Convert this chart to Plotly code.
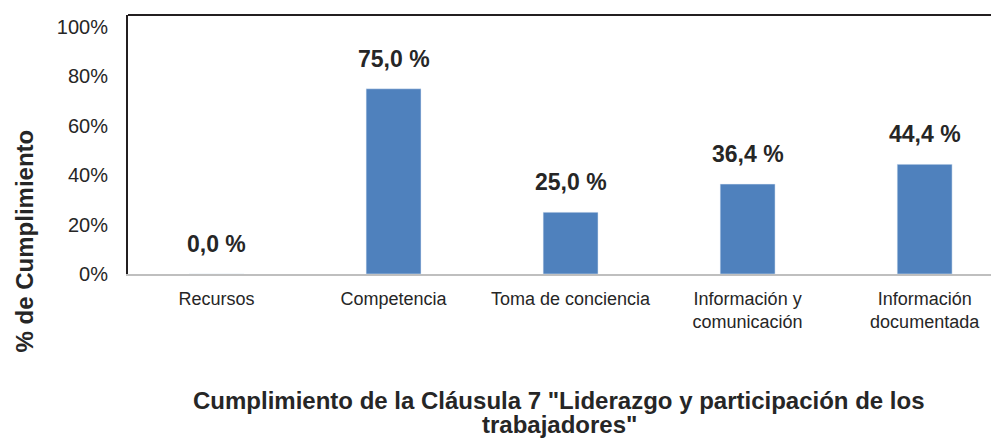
import plotly.graph_objects as go

categories = ["Recursos", "Competencia", "Toma de conciencia",
              "Información y<br>comunicación", "Información<br>documentada"]
values = [0.0, 0.75, 0.25, 0.364, 0.444]
labels = ["0,0 %", "75,0 %", "25,0 %", "36,4 %", "44,4 %"]
y_ticks = [0, 0.2, 0.4, 0.6, 0.8, 1.0]
y_tick_text = ["0%", "20%", "40%", "60%", "80%", "100%"]
x_title_lines = ["Cumplimiento de la Cláusula 7 \"Liderazgo y participación de los",
                 "trabajadores\""]
y_title = "% de Cumplimiento"

FONT = "Liberation Sans, Arial, sans-serif"
TXT = "#262626"

xs = list(range(len(categories)))

fig = go.Figure()
fig.add_trace(go.Bar(x=xs, y=values, marker_color="#4F81BD", width=0.31,
                     hoverinfo="skip"))

for xi, v, t in zip(xs, values, labels):
    fig.add_annotation(x=xi, y=v, text=f"<b>{t}</b>", showarrow=False,
                       yanchor="bottom", yshift=15,
                       font=dict(family=FONT, size=23, color=TXT))

for line, yp in zip(x_title_lines, [-0.4865, -0.583]):
    fig.add_annotation(xref="paper", yref="paper", x=0.495, y=yp,
                       text=f"<b>{line}</b>",
                       showarrow=False, xanchor="center", yanchor="middle",
                       font=dict(family=FONT, size=24, color=TXT))
fig.add_annotation(xref="paper", yref="paper", x=-0.119, y=0.127,
                   text=f"<b>{y_title}</b>", textangle=-90,
                   showarrow=False, xanchor="center", yanchor="middle",
                   font=dict(family=FONT, size=24, color=TXT))

fig.add_shape(type="line", xref="paper", yref="paper", x0=0, x1=1, y0=1, y1=1,
              line=dict(color="#231f20", width=2))

fig.update_layout(
    width=991, height=431,
    margin=dict(l=120, r=0, t=7, b=165),
    plot_bgcolor="white", paper_bgcolor="white",
    showlegend=False,
    xaxis=dict(range=[-0.5, 4.42], tickmode="array", tickvals=xs,
               ticktext=categories, showline=True, linecolor="#BFBFBF",
               linewidth=2, showgrid=False, zeroline=False, ticks="",
               ticklabelstandoff=7,
               tickfont=dict(family=FONT, size=18, color=TXT)),
    yaxis=dict(range=[0, 259 / 247], tickmode="array", tickvals=y_ticks,
               ticktext=y_tick_text, showline=True, linecolor="#231f20",
               linewidth=2, showgrid=False, zeroline=False, ticks="",
               ticklabelstandoff=14,
               tickfont=dict(family=FONT, size=20, color=TXT)),
)

fig.write_html("out.html")
